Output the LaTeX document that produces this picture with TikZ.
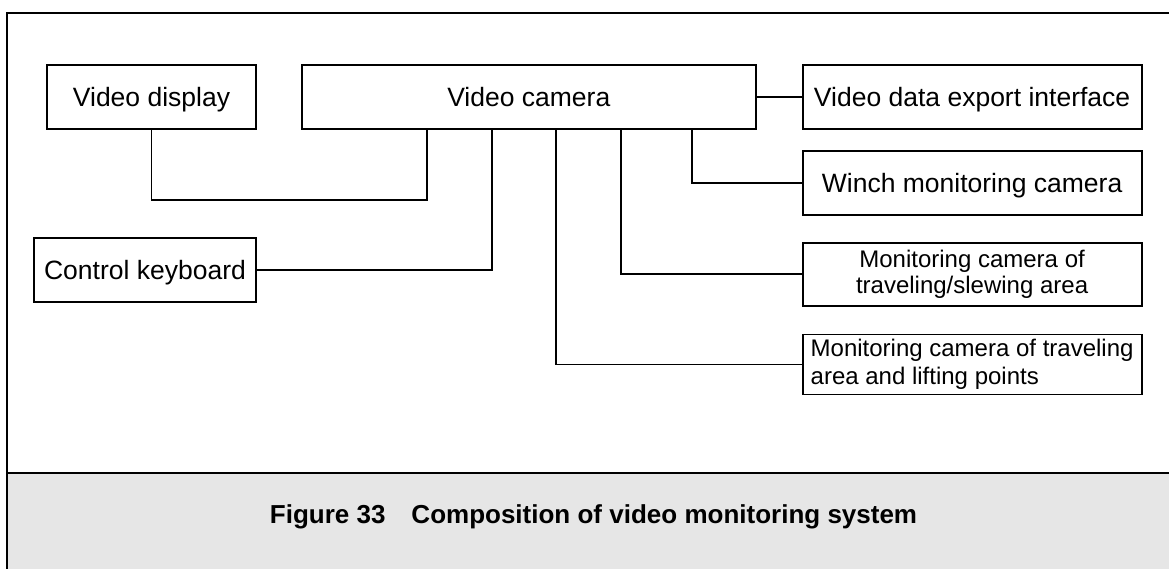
\documentclass[tikz,border=0pt]{standalone}
\usepackage{fontspec}
\setmainfont{Liberation Sans}
\usetikzlibrary{positioning, calc}
\definecolor{capgray}{HTML}{E6E6E6}

\begin{document}
\begin{tikzpicture}[x=0.5pt, y=-0.5pt, line width=0.9pt, box/.style={draw, align=center, inner sep=1pt, minimum height=32pt, text height=9.5pt, text depth=0pt, font=\fontsize{13.25}{16}\selectfont}, smallbox/.style={draw, align=center, inner sep=1pt, font=\fontsize{12}{13}\selectfont}, link/.style={line width=0.9pt}]

\useasboundingbox (0,0) rectangle (1169,569);
\fill[capgray] (7,473) rectangle (1169,569);
\draw (1169,13) -- (7,13) -- (7,569);
\draw (7,473) -- (1169,473);

\node[box, minimum width=104.5pt] (display) at (151.5,97) {Video display};
\node[box, minimum width=227pt, right=22pt of display] (cam) {Video camera};
\node[box, minimum width=169.5pt, right=22.5pt of cam] (export) {Video data export interface};
\node[box, minimum width=169.5pt, below=10pt of export] (winch) {Winch monitoring camera};
\node[smallbox, minimum width=169.5pt, minimum height=31.5pt, below=13pt of winch] (slew) {Monitoring camera of\\traveling/slewing area};
\node[smallbox, minimum width=169.5pt, minimum height=30pt, align=left, font=\fontsize{12}{14}\selectfont, below=13.5pt of slew] (lift) {Monitoring camera of traveling\\area and lifting points};
\node[box, minimum width=111pt] (kbd) at (145,270) {Control keyboard};

\coordinate (dj) at ($(cam.south west)+(126,70)$);
\draw[link] (display.south) |- (dj) -- (dj |- cam.south);
\draw[link] (kbd.east) -| ($(cam.south west)+(191,0)$);
\draw[link] (lift.west) -| ($(cam.south west)+(255,0)$);
\draw[link] (slew.west) -| ($(cam.south west)+(320,0)$);
\draw[link] (winch.west) -| ($(cam.south west)+(391,0)$);
\draw[link] (cam) -- (export);

\node[font=\bfseries\fontsize{13}{15}\selectfont] (caption) at (593.5,517) {Figure 33\hspace{13pt}Composition of video monitoring system};

\end{tikzpicture}
\end{document}
